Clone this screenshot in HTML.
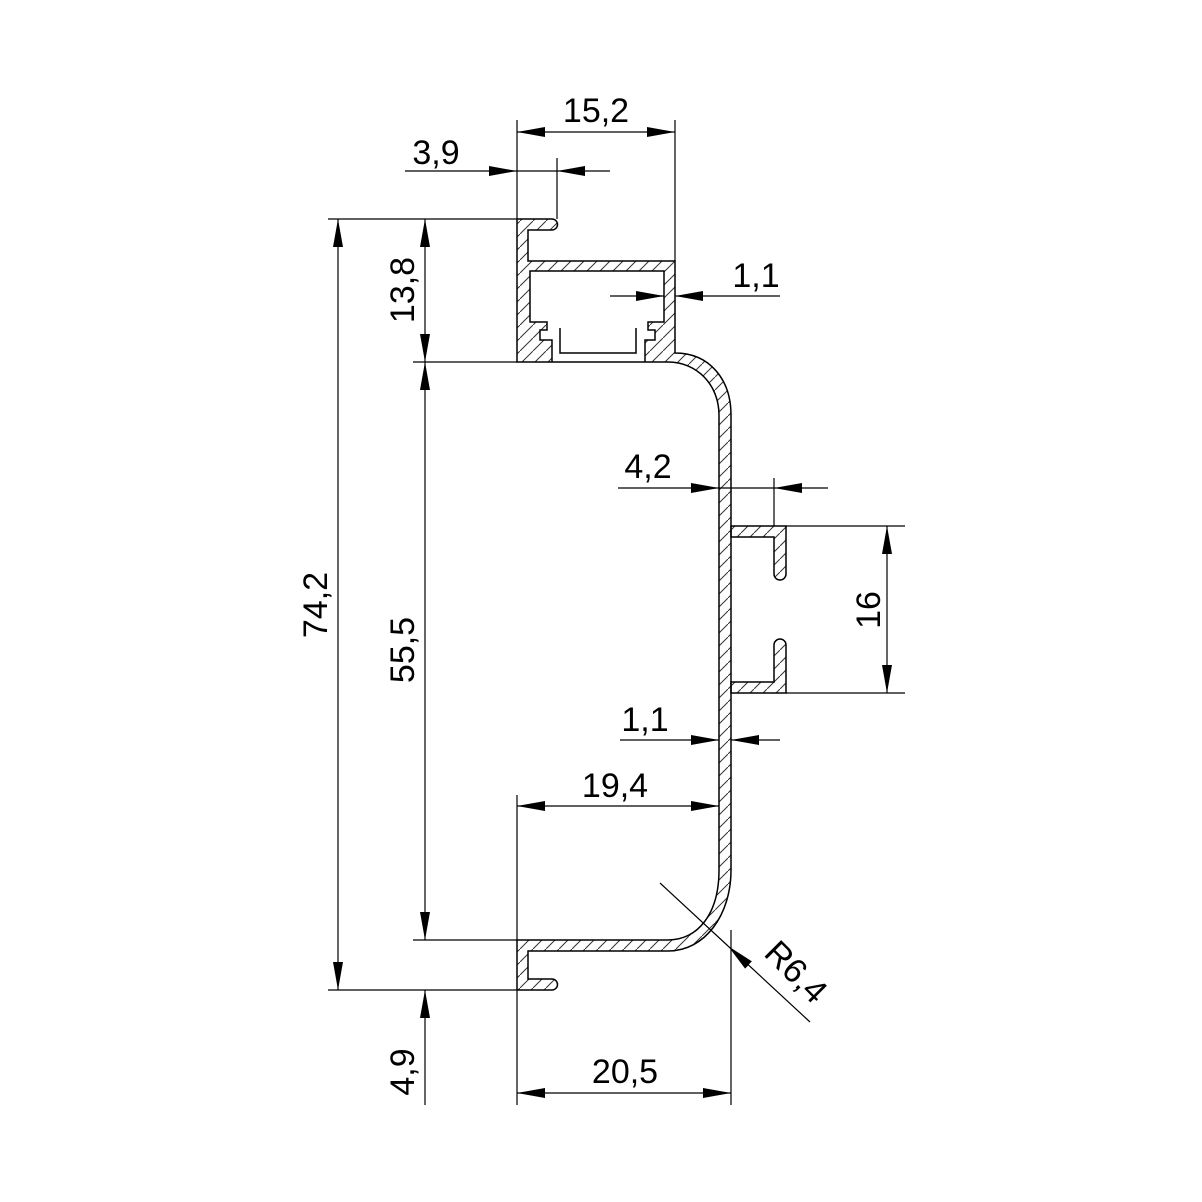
<!DOCTYPE html>
<html><head><meta charset="utf-8"><style>html,body{margin:0;padding:0;background:#fff}svg{display:block}text{font-family:"Liberation Sans",sans-serif;font-size:34px;fill:#000}</style></head><body>
<svg width="1202" height="1202" viewBox="0 0 1202 1202" xmlns="http://www.w3.org/2000/svg">
<defs>
<pattern id="h" width="13" height="13" patternUnits="userSpaceOnUse">
<line x1="0" y1="13" x2="13" y2="0" stroke="#333" stroke-width="1"/>
</pattern>
<marker id="a" viewBox="0 0 28 10" refX="28" refY="5" markerWidth="28" markerHeight="10" markerUnits="userSpaceOnUse" orient="auto-start-reverse"><path d="M0,0 L28,5 L0,10 Z" fill="#000"/></marker>
</defs>
<g fill="url(#h)" stroke="#000" stroke-width="1.5" fill-rule="evenodd">
<path d="M517,219 H552 A5.5,5.5 0 0 1 552,230 H528 V261 H675 V353 C710,353 731,380 731,415 V870 C731,915 705,951 668,951 H528 V979 H552 A5.5,5.5 0 0 1 552,990 H517 V940 H668 C697,940 719,915 719,870 V415 C719,385 697,362 668,362 H517 Z
M530,271 H664 V322 H648 V330 H655 V340 H645 V362 H552 V340 H540 V330 H547 V322 H530 Z"/>
<path d="M731,526 H786 V574 A6,6 0 0 1 774,574 V537 H731 Z"/>
<path d="M731,693 H786 V645 A6,6 0 0 0 774,645 V682 H731 Z"/>
</g>
<path d="M560,328 V353 H636 V328" fill="none" stroke="#000" stroke-width="1.5"/>
<g stroke="#000" stroke-width="1.2" fill="none">
<line x1="517" y1="120" x2="517" y2="219"/>
<line x1="675" y1="120" x2="675" y2="261"/>
<line x1="557" y1="158" x2="557" y2="219"/>
<line x1="328" y1="219" x2="517" y2="219"/>
<line x1="413" y1="362" x2="517" y2="362"/>
<line x1="413" y1="940" x2="517" y2="940"/>
<line x1="328" y1="990" x2="517" y2="990"/>
<line x1="517" y1="990" x2="517" y2="1105"/>
<line x1="731" y1="930" x2="731" y2="1105"/>
<line x1="774" y1="478" x2="774" y2="526"/>
<line x1="786" y1="526" x2="905" y2="526"/>
<line x1="786" y1="693" x2="905" y2="693"/>
<line x1="517" y1="795" x2="517" y2="940"/>
<line x1="517" y1="132" x2="675" y2="132" marker-start="url(#a)" marker-end="url(#a)"/>
<line x1="405" y1="171" x2="517" y2="171" marker-end="url(#a)"/>
<line x1="610" y1="171" x2="557" y2="171" marker-end="url(#a)"/>
<line x1="517" y1="171" x2="557" y2="171"/>
<line x1="338" y1="219" x2="338" y2="990" marker-start="url(#a)" marker-end="url(#a)"/>
<line x1="425" y1="219" x2="425" y2="362" marker-start="url(#a)" marker-end="url(#a)"/>
<line x1="425" y1="362" x2="425" y2="940" marker-start="url(#a)" marker-end="url(#a)"/>
<line x1="425" y1="1105" x2="425" y2="990" marker-end="url(#a)"/>
<line x1="610" y1="296" x2="664" y2="296" marker-end="url(#a)"/>
<line x1="780" y1="296" x2="675" y2="296" marker-end="url(#a)"/>
<line x1="618" y1="488" x2="719" y2="488" marker-end="url(#a)"/>
<line x1="828" y1="488" x2="774" y2="488" marker-end="url(#a)"/>
<line x1="719" y1="488" x2="774" y2="488"/>
<line x1="887" y1="526" x2="887" y2="693" marker-start="url(#a)" marker-end="url(#a)"/>
<line x1="620" y1="740" x2="719" y2="740" marker-end="url(#a)"/>
<line x1="780" y1="740" x2="731" y2="740" marker-end="url(#a)"/>
<line x1="517" y1="806" x2="719" y2="806" marker-start="url(#a)" marker-end="url(#a)"/>
<line x1="517" y1="1093" x2="731" y2="1093" marker-start="url(#a)" marker-end="url(#a)"/>
<line x1="660" y1="883" x2="728" y2="946"/>
<line x1="810" y1="1022" x2="728" y2="946" marker-end="url(#a)"/>
</g>
<text x="596" y="122" text-anchor="middle">15,2</text>
<text x="436" y="164" text-anchor="middle">3,9</text>
<text x="756" y="287" text-anchor="middle">1,1</text>
<text x="648" y="478" text-anchor="middle">4,2</text>
<text x="645" y="731" text-anchor="middle">1,1</text>
<text x="615" y="797" text-anchor="middle">19,4</text>
<text x="625" y="1083" text-anchor="middle">20,5</text>
<text transform="translate(327,605) rotate(-90)" text-anchor="middle">74,2</text>
<text transform="translate(414,290) rotate(-90)" text-anchor="middle">13,8</text>
<text transform="translate(414,650) rotate(-90)" text-anchor="middle">55,5</text>
<text transform="translate(414,1072) rotate(-90)" text-anchor="middle">4,9</text>
<text transform="translate(880,610) rotate(-90)" text-anchor="middle">16</text>
<text transform="translate(788,980) rotate(45)" text-anchor="middle">R6,4</text>
</svg>
</body></html>
